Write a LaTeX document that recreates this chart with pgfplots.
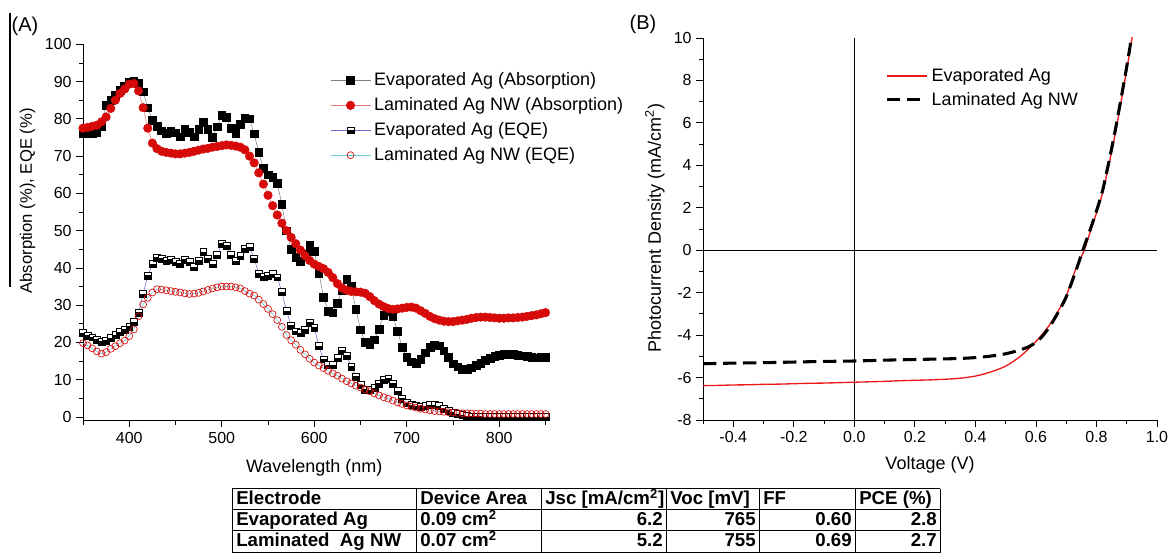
\documentclass[border=0pt]{standalone}
\usepackage{fontspec}
\setmainfont{Liberation Sans}
\usepackage{pgfplots}
\usepackage{pgfplotstable}
\pgfplotsset{compat=1.18}
\usetikzlibrary{plotmarks}

\definecolor{absred}{RGB}{215,10,10}
\definecolor{lightred}{RGB}{240,120,120}
\definecolor{eqeblue}{RGB}{110,110,205}
\definecolor{eqecyan}{RGB}{100,200,215}
\definecolor{jvred}{RGB}{235,25,25}

% half-filled square: white top, black bottom
\pgfdeclareplotmark{halfsq}{%
  \pgfpathrectangle{\pgfqpoint{-\pgfplotmarksize}{0pt}}{\pgfqpoint{2\pgfplotmarksize}{\pgfplotmarksize}}%
  \pgfsetfillcolor{white}\pgfusepathqfillstroke
  \pgfpathrectangle{\pgfqpoint{-\pgfplotmarksize}{-\pgfplotmarksize}}{\pgfqpoint{2\pgfplotmarksize}{\pgfplotmarksize}}%
  \pgfsetfillcolor{black}\pgfusepathqfillstroke
}

% (A) absorption and EQE spectra
\pgfplotstableread{
lam evabs lamabs eveqe lameqe
350 76.0 77.5 22.5 19.8
355 76.0 77.7 21.8 19.2
360 76.2 78.0 21.4 18.4
365 76.5 78.3 20.8 17.6
370 78.0 79.2 20.3 17.0
375 83.7 80.5 20.5 17.4
380 85.0 82.8 21.2 18.3
385 86.3 85.0 22.0 19.0
390 87.6 86.8 22.8 19.8
395 88.8 88.0 23.5 20.5
400 89.8 89.3 24.3 21.7
405 90.0 89.5 25.5 23.5
410 89.6 87.5 28.0 27.0
415 87.3 83.0 33.0 30.2
420 83.0 77.5 38.0 32.0
425 79.7 73.5 41.0 33.4
430 78.0 72.0 42.8 34.3
435 76.8 71.3 42.5 34.2
440 76.2 71.0 42.0 34.0
445 76.8 70.8 42.3 33.8
450 76.3 70.6 41.6 33.6
455 75.2 70.6 41.2 33.4
460 77.2 70.8 42.3 33.2
465 76.5 71.0 41.6 33.0
470 75.2 71.3 40.3 33.1
475 77.2 71.6 42.0 33.3
480 79.0 71.9 44.3 33.7
485 77.2 72.1 42.5 34.1
490 75.0 72.4 41.0 34.5
495 77.9 72.6 43.5 34.8
500 81.0 72.8 46.5 35.0
505 80.5 73.0 46.0 35.0
510 77.5 72.9 43.5 35.0
515 76.2 72.7 41.8 34.8
520 78.5 72.4 43.2 34.5
525 80.2 71.7 45.2 33.8
530 80.0 70.0 45.6 33.1
535 76.0 68.2 42.5 32.6
540 71.0 65.5 38.5 31.5
545 66.7 62.5 37.7 30.3
550 65.0 59.5 38.0 29.0
555 64.3 56.7 38.4 27.6
560 62.8 54.2 37.5 26.0
565 57.0 52.0 33.5 24.2
570 50.0 50.0 28.5 22.0
575 45.0 48.2 24.5 20.6
580 42.8 46.5 23.0 19.4
585 41.8 44.8 22.6 18.0
590 43.8 43.3 23.5 16.8
595 46.0 42.0 25.4 15.6
600 44.5 41.0 24.0 14.6
605 38.6 40.4 19.0 13.8
610 32.2 39.8 15.5 13.1
615 28.4 38.8 14.0 12.4
620 28.0 37.4 14.0 11.7
625 30.6 35.8 15.8 11.1
630 34.0 34.6 17.8 10.3
635 37.0 34.0 16.5 9.6
640 35.0 33.7 13.5 9.0
645 29.0 33.6 10.8 8.4
650 23.4 33.5 8.6 7.9
655 20.0 33.2 7.4 7.4
660 19.6 32.3 7.2 6.9
665 20.7 31.2 7.8 6.3
670 23.6 30.3 9.0 5.8
675 27.2 29.6 10.0 5.3
680 28.3 29.1 10.3 4.9
685 27.0 28.9 9.0 4.4
690 23.0 29.0 7.0 3.9
695 18.8 29.2 5.0 3.5
700 16.0 29.4 3.8 3.1
705 14.8 29.5 3.2 2.8
710 14.5 29.2 2.9 2.5
715 15.5 28.5 2.8 2.2
720 17.2 27.8 3.0 2.0
725 18.7 27.0 3.2 1.8
730 19.3 26.4 3.2 1.6
735 19.1 26.0 2.9 1.5
740 17.8 25.7 2.3 1.4
745 16.0 25.6 1.7 1.3
750 14.3 25.6 1.2 1.2
755 13.5 25.8 0.8 1.1
760 12.9 26.0 0.5 1.0
765 12.8 26.2 0.3 1.0
770 13.2 26.5 0.2 0.9
775 13.9 26.7 0.1 0.9
780 14.5 26.8 0.1 0.9
785 15.2 26.8 0.0 0.8
790 15.7 26.7 0.0 0.8
795 16.2 26.6 0.0 0.8
800 16.5 26.5 0.0 0.8
805 16.8 26.5 0.0 0.8
810 16.9 26.6 0.0 0.8
815 16.9 26.6 0.0 0.8
820 16.6 26.7 0.0 0.8
825 16.4 26.8 0.0 0.8
830 16.2 27.0 0.0 0.8
835 16.0 27.2 0.0 0.8
840 15.9 27.4 0.0 0.8
845 16.0 27.7 0.0 0.8
850 16.0 28.0 0.0 0.8
}\spectra

% (B) J-V curves
\pgfplotstableread{
v j
-0.50 -6.38
-0.45 -6.37
-0.40 -6.35
-0.35 -6.34
-0.30 -6.32
-0.25 -6.31
-0.20 -6.29
-0.15 -6.27
-0.10 -6.26
-0.05 -6.24
0.00 -6.22
0.05 -6.20
0.10 -6.18
0.15 -6.15
0.20 -6.13
0.25 -6.11
0.30 -6.08
0.35 -6.03
0.40 -5.93
0.45 -5.74
0.50 -5.46
0.55 -4.98
0.60 -4.30
0.63 -3.80
0.66 -3.20
0.70 -2.15
0.73 -0.95
0.76 0.02
0.78 0.90
0.80 1.75
0.82 2.70
0.84 3.95
0.86 5.35
0.88 6.90
0.90 8.50
0.918 10.05
}\jvevap

\pgfplotstableread{
v j
-0.50 -5.35
-0.40 -5.32
-0.30 -5.30
-0.20 -5.27
-0.10 -5.24
0.00 -5.22
0.10 -5.18
0.20 -5.15
0.30 -5.12
0.35 -5.10
0.40 -5.06
0.45 -4.99
0.50 -4.88
0.55 -4.69
0.58 -4.52
0.60 -4.33
0.62 -4.08
0.65 -3.50
0.68 -2.75
0.70 -2.20
0.73 -1.05
0.755 0.00
0.78 1.00
0.80 1.85
0.82 2.80
0.84 4.10
0.86 5.50
0.88 7.05
0.90 8.65
0.916 10.05
}\jvlam

\pgfplotsset{
  panel/.style={
    scale only axis, anchor=south west,
    axis x line*=bottom, axis y line*=left,
    axis line style={-, line width=0.6pt},
    tick align=outside,
    major tick length=5pt, minor tick length=3pt,
    every tick/.style={black, line width=0.6pt},
    tick label style={font=\fontsize{12}{14}\selectfont},
    /pgf/number format/assume math mode=true,
    label style={font=\fontsize{13.5}{16}\selectfont},
    legend cell align=left,
  },
}

\begin{document}
\begin{tikzpicture}[x=0.75pt,y=0.75pt]
\useasboundingbox (0,0) rectangle (1169,555);

% panel (A)
\begin{axis}[panel, at={(62.25pt,100.7pt)}, width=346.9pt, height=282.3pt,
  xmin=350, xmax=850, ymin=-1, ymax=100,
  xtick={400,500,600,700,800}, minor xtick={350,450,550,650,750,850},
  ytick={0,10,...,100}, minor ytick={5,15,...,95},
  xlabel={Wavelength (nm)}, ylabel={Absorption (\%), EQE (\%)},
  xlabel style={at={(axis description cs:0.5,-0.126)}, anchor=center},
  ylabel style={at={(axis description cs:-0.12,0.584)}, anchor=center, font=\fontsize{12.5}{15}\selectfont},
  legend style={at={(0.534,0.929)}, anchor=north west, draw=none, fill=none, inner sep=0pt,
    font=\fontsize{13.5}{16}\selectfont, row sep=5pt,
    nodes={inner ysep=1.2pt, inner xsep=2.5pt}},
  legend image code/.code={\draw[mark repeat=2, mark phase=2] plot coordinates {(0pt,0pt) (15pt,0pt) (30pt,0pt)};},
]
\addplot[gray, line width=0.4pt, mark=square*, mark size=2.9pt, mark options={black, solid}]
  table[x=lam, y=evabs] {\spectra};
\addlegendentry{Evaporated Ag (Absorption)}
\addplot[lightred, line width=0.4pt, mark=*, mark size=3.2pt, mark options={absred, fill=absred, solid}]
  table[x=lam, y=lamabs] {\spectra};
\addlegendentry{Laminated Ag NW (Absorption)}
\addplot[eqeblue, line width=0.4pt, mark=halfsq, mark size=2.6pt, mark options={black, line width=0.4pt, solid}]
  table[x=lam, y=eveqe] {\spectra};
\addlegendentry{Evaporated Ag (EQE)}
\addplot[eqecyan, line width=0.4pt, mark=o, mark size=2.6pt, mark options={absred, line width=0.5pt, solid}]
  table[x=lam, y=lameqe] {\spectra};
\addlegendentry{Laminated Ag NW (EQE)}
\end{axis}

% panel (B)
\begin{axis}[panel, at={(527.25pt,101.25pt)}, width=340.5pt, height=286.5pt,
  xmin=-0.5, xmax=1.0, ymin=-8, ymax=10,
  xtick={-0.4,-0.2,0,0.2,0.4,0.6,0.8,1.0},
  minor xtick={-0.5,-0.3,-0.1,0.1,0.3,0.5,0.7,0.9},
  ytick={-8,-6,...,10}, minor ytick={-7,-5,...,9},
  xticklabel style={/pgf/number format/.cd, fixed, fixed zerofill, precision=1},
  xlabel={Voltage (V)}, ylabel={Photocurrent Density (mA/cm\textsuperscript{2})},
  xlabel style={at={(axis description cs:0.5,-0.118)}, anchor=center},
  ylabel style={at={(axis description cs:-0.106,0.503)}, anchor=center},
  legend style={at={(0.401,0.925)}, anchor=north west, draw=none, fill=none, inner sep=0pt,
    font=\fontsize{13.5}{16}\selectfont, row sep=4pt,
    nodes={inner ysep=1.2pt, inner xsep=2.5pt}},
  legend image code/.code={\draw (0pt,0pt) -- (30pt,0pt);},
]
\draw[black, line width=0.6pt] (axis cs:0,-8) -- (axis cs:0,10);
\draw[black, line width=0.6pt] (axis cs:-0.5,0) -- (axis cs:1.0,0);
\addplot[jvred, line width=1pt, smooth] table[x=v, y=j] {\jvevap};
\addlegendentry{Evaporated Ag}
\addplot[black, line width=2.3pt, dash pattern=on 10pt off 5pt, smooth] table[x=v, y=j] {\jvlam};
\addlegendentry{Laminated Ag NW}
\end{axis}

% panel letters and left rule
\node[font=\fontsize{15}{17}\selectfont] at (25,529) {(A)};
\node[font=\fontsize{15}{17}\selectfont] at (643,531) {(B)};
\draw[line width=0.9pt] (10,542) -- (10,268);

% device table
\begin{scope}[line width=0.75pt]
\foreach \yy in {66,45,24,2} \draw (232,\yy) -- (940,\yy);
\foreach \xx in {232,416,541,666,759,855,940} \draw (\xx,66) -- (\xx,2);
\end{scope}
\begin{scope}[font=\fontsize{14}{16}\selectfont\bfseries, inner sep=0pt]
\node[anchor=base west] at (236,50) {Electrode};
\node[anchor=base west] at (420,50) {Device Area};
\node[anchor=base west] at (545,50) {Jsc [mA/cm\textsuperscript{2}]};
\node[anchor=base west] at (670,50) {Voc [mV]};
\node[anchor=base west] at (763,50) {FF};
\node[anchor=base west] at (859,50) {PCE (\%)};
\node[anchor=base west] at (236,29) {Evaporated Ag};
\node[anchor=base west] at (420,29) {0.09 cm\textsuperscript{2}};
\node[anchor=base east] at (663,29) {6.2};
\node[anchor=base east] at (756,29) {765};
\node[anchor=base east] at (852,29) {0.60};
\node[anchor=base east] at (937,29) {2.8};
\node[anchor=base west] at (236,8) {Laminated\ \ Ag NW};
\node[anchor=base west] at (420,8) {0.07 cm\textsuperscript{2}};
\node[anchor=base east] at (663,8) {5.2};
\node[anchor=base east] at (756,8) {755};
\node[anchor=base east] at (852,8) {0.69};
\node[anchor=base east] at (937,8) {2.7};
\end{scope}
\end{tikzpicture}
\end{document}
